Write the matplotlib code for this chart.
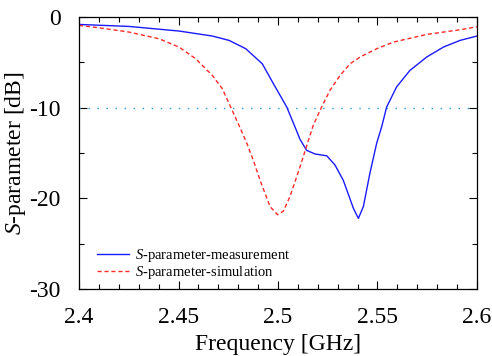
import matplotlib
matplotlib.use("Agg")
import matplotlib.pyplot as plt
from matplotlib.ticker import MultipleLocator

plt.rcParams['font.family'] = 'Liberation Serif'
plt.rcParams['mathtext.fontset'] = 'custom'
plt.rcParams['mathtext.rm'] = 'Liberation Serif'
plt.rcParams['mathtext.it'] = 'Liberation Serif:italic'

meas_f = [2.4000, 2.4251, 2.4503, 2.4670, 2.4754, 2.4838, 2.4921, 2.4977,
          2.5044, 2.5085, 2.5111, 2.5144, 2.5186, 2.5245, 2.5286, 2.5328,
          2.5379, 2.5404, 2.5429, 2.5462, 2.5496, 2.5521, 2.5546, 2.5596,
          2.5663, 2.5747, 2.5831, 2.5915, 2.6000]
meas_db = [-0.81, -1.03, -1.54, -2.09, -2.57, -3.49, -5.15, -7.35,
           -9.92, -12.1, -13.5, -14.7, -15.1, -15.3, -16.3, -18.0,
           -21.1, -22.2, -20.9, -17.2, -13.9, -12.1, -9.92, -7.7,
           -5.88, -4.41, -3.31, -2.57, -2.09]

# simulated curve
sim_f = [2.4000, 2.4101, 2.4251, 2.4402, 2.4503, 2.4586, 2.4670, 2.4720,
         2.4762, 2.4804, 2.4843, 2.4876, 2.4910, 2.4960, 2.4998, 2.5027,
         2.5060, 2.5111, 2.5177, 2.5219, 2.5261, 2.5312, 2.5362, 2.5412,
         2.5496, 2.5580, 2.5747, 2.5915, 2.6000]
sim_db = [-0.92, -1.18, -1.65, -2.39, -3.31, -4.59, -6.43, -7.9,
          -9.92, -11.94, -13.9, -15.8, -18.0, -20.9, -21.8, -21.4,
          -19.8, -16.5, -11.94, -9.92, -8.08, -6.43, -5.15, -4.41,
          -3.49, -2.76, -1.91, -1.40, -1.07]

ref_level = -10

fig = plt.figure(figsize=(4.92, 3.56), dpi=100)
ax = fig.add_axes([0.1606, 0.188, 0.8089, 0.764])

ax.axhline(ref_level, color='#1e9fd8', lw=1.0, dashes=(1, 5.5))
ax.plot(meas_f, meas_db, color='#1a1aff', lw=1.0,
        label=r'$\it{S}$-parameter-measurement')
ax.plot(sim_f, sim_db, color='#ff2a2a', lw=1.0, dashes=(3, 2),
        label=r'$\it{S}$-parameter-simulation')

ax.set_xlim(2.4, 2.6)
ax.set_ylim(-30, 0)
ax.xaxis.set_minor_locator(MultipleLocator(0.01))
ax.yaxis.set_minor_locator(MultipleLocator(5))
ax.set_xticks([2.4, 2.45, 2.5, 2.55, 2.6])
ax.set_xticklabels(['2.4', '2.45', '2.5', '2.55', '2.6'])
ax.set_yticks([-30, -20, -10, 0])
ax.set_yticklabels(['-30', '-20', '-10', '0'])
ax.tick_params(which='both', direction='in', top=True, right=True,
               labelsize=17, width=0.8)
ax.tick_params(which='major', length=6)
ax.tick_params(which='minor', length=3.5)
ax.tick_params(axis='x', which='major', pad=13)
ax.tick_params(axis='y', which='major', pad=13)
for s in ax.spines.values():
    s.set_linewidth(0.9)

ax.set_xlabel('Frequency [GHz]', fontsize=17, labelpad=4)
ax.set_ylabel(r'$\it{S}$-parameter [dB]', fontsize=17, labelpad=1)

ax.legend(loc='lower left', frameon=False, fontsize=10.5, handlelength=2.2,
          handletextpad=0.4, labelspacing=0.0, borderaxespad=0,
          borderpad=0, bbox_to_anchor=(0.045, 0.03))

fig.savefig('out.png', dpi=100)
